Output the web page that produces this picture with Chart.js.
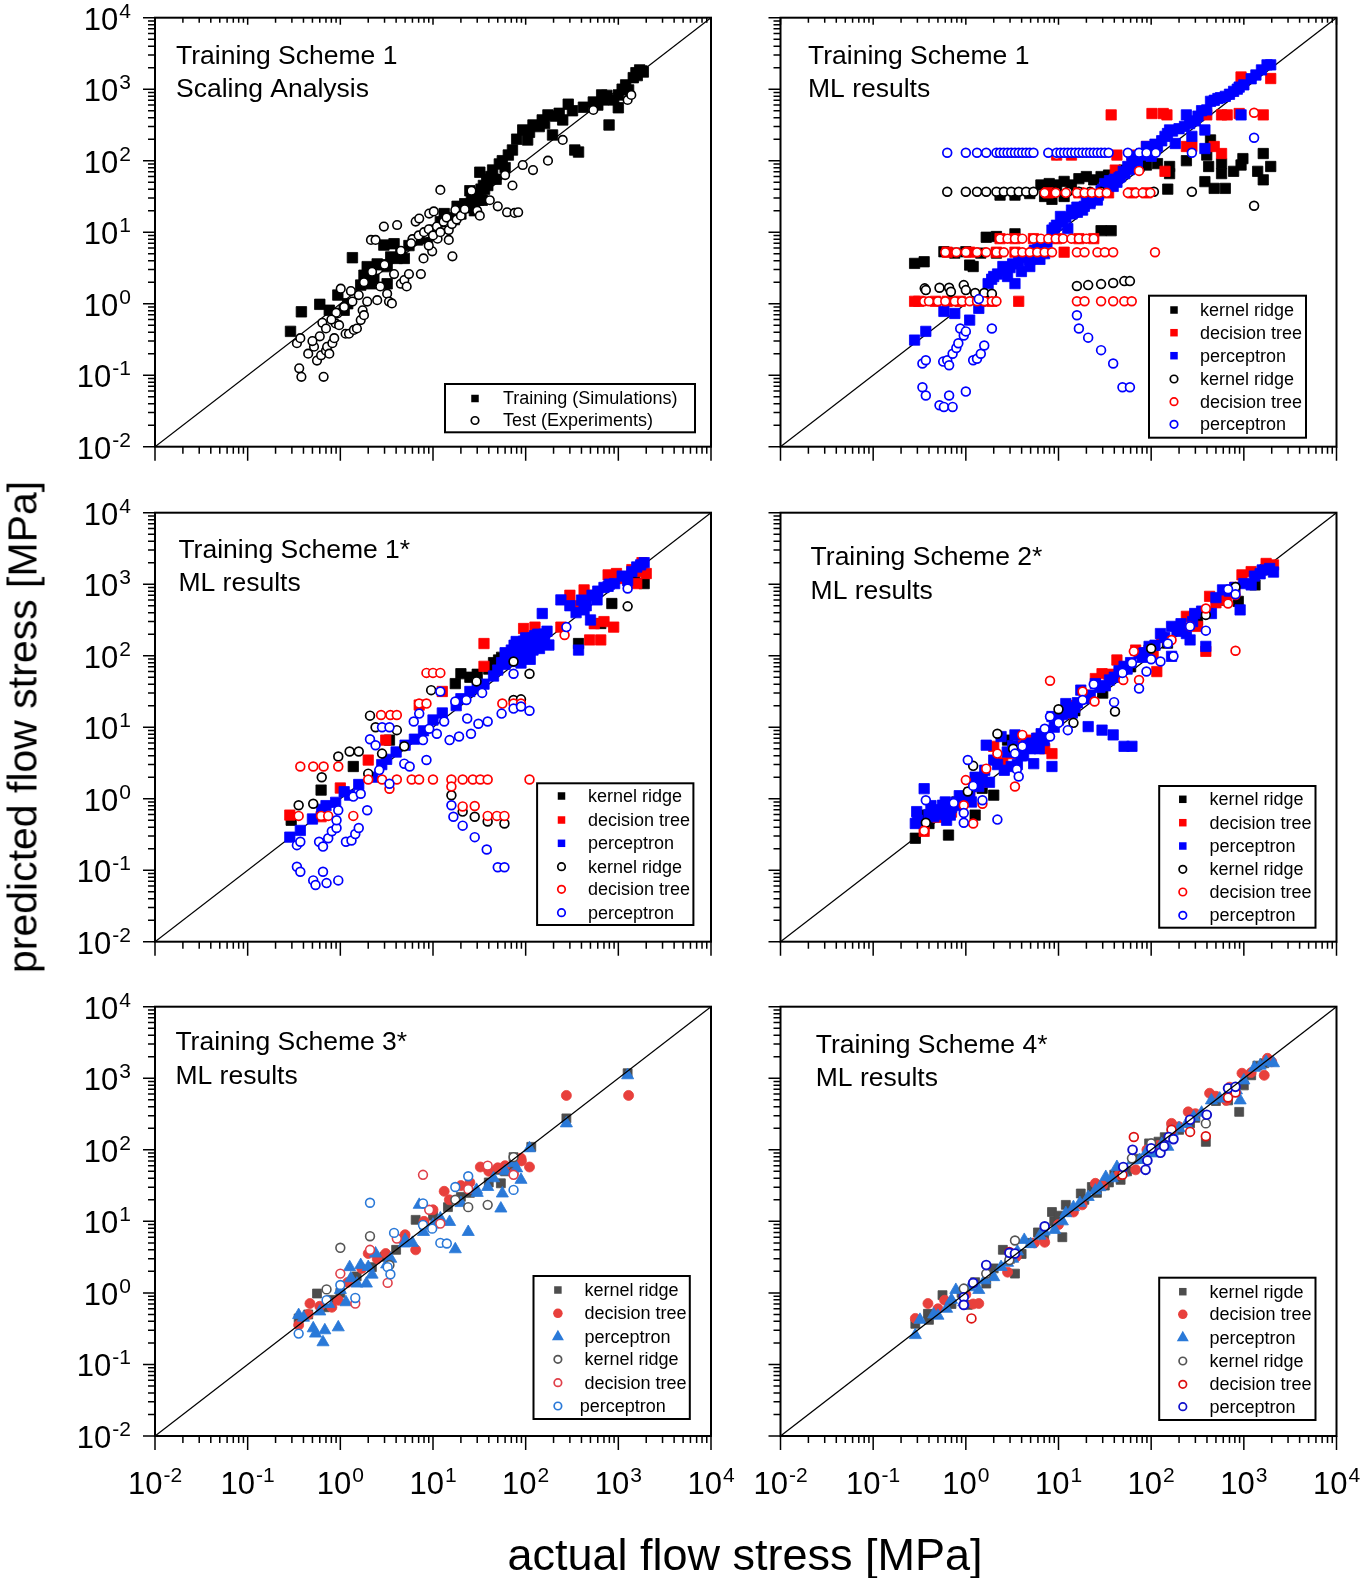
<!DOCTYPE html>
<html><head><meta charset="utf-8">
<script src="https://cdn.jsdelivr.net/npm/chart.js@4.4.1/dist/chart.umd.min.js"></script>
<style>
html,body{margin:0;padding:0;background:#fff;}
#wrap{position:relative;width:1362px;height:1578px;overflow:hidden;font-family:"Liberation Sans",Arial,Helvetica,sans-serif;color:#000;}
#wrap canvas{position:absolute;left:0;top:0;}
.ytitle{position:absolute;left:23px;top:727px;transform:translate(-50%,-50%) rotate(-90deg);font-size:41px;white-space:nowrap;line-height:1;}
.xtitle{position:absolute;left:745px;top:1554px;transform:translate(-50%,-50%);font-size:45px;white-space:nowrap;line-height:1;}
</style></head><body>
<div id="wrap">
<canvas id="c1" width="1362" height="1578"></canvas>
<canvas id="c2" width="1362" height="1578"></canvas>
<canvas id="c3" width="1362" height="1578"></canvas>
<canvas id="c4" width="1362" height="1578"></canvas>
<canvas id="c5" width="1362" height="1578"></canvas>
<canvas id="c6" width="1362" height="1578"></canvas>
<div class="ytitle">predicted flow stress [MPa]</div>
<div class="xtitle">actual flow stress [MPa]</div>
</div>
<script>
// ---------------- DATA ----------------
const tickExponents = [-2, -1, 0, 1, 2, 3, 4];
const axisMin = 0.01, axisMax = 10000;
const panelTitles = [
  ["Training Scheme 1", "Scaling Analysis"],
  ["Training Scheme 1", "ML results"],
  ["Training Scheme 1*", "ML results"],
  ["Training Scheme 2*", "ML results"],
  ["Training Scheme 3*", "ML results"],
  ["Training Scheme 4*", "ML results"]
];
const p1Labels = ["Training (Simulations)", "Test (Experiments)"];
const mlLabels = ["kernel ridge", "decision tree", "perceptron", "kernel ridge", "decision tree", "perceptron"];
const mlLabels4 = ["kernel rigde", "decision tree", "perceptron", "kernel ridge", "decision tree", "perceptron"];

// Panel 1: scaling analysis  [actual, predicted]
const p1Train = [[0.29,0.41],[0.38,0.77],[0.60,0.98],[0.76,0.81],[0.94,1.32],[1.10,0.81],[1.35,4.4],[1.66,1.82],[1.95,3.3],[2.14,1.9],[2.5,3.6],[2.95,6.6],[3.2,1.9],[3.2,3.3],[3.8,6.9],[4.1,4.3],[4.9,4.3],[6.8,7.8],[8.7,8.1],[10.2,10.7],[13.2,18.2],[18.2,23],[22,25],[26,30],[30,35],[36,40],[25,38],[32,69],[28,20],[39,45],[44,74],[34,28],[56,100],[72,141],[93,269],[105,195],[120,316],[151,372],[174,437],[195,229],[251,372],[288,617],[339,141],[372,132],[537,661],[661,832],[794,316],[891,708],[1000,832],[1290,977],[1450,1450],[1550,1700],[1700,1860],[1860,1740],[1000,550],[692,708],[1.2,1.0],[1.8,2.5],[2.3,2.2],[2.8,3.5],[3.5,4.5],[4.5,5.0],[5.5,6.5],[12,14],[15,16],[17,15],[20,18],[24,22],[27,26],[29,33],[31,28],[33,40],[35,45],[38,55],[42,60],[48,55],[52,90],[60,80],[65,120],[80,200],[110,250],[140,300],[160,330],[210,420],[230,460],[320,500],[420,560],[600,600],[750,820],[1100,1000],[1200,1150],[1600,1550],[1800,1800]];
const p1Test = [[0.34,0.28],[0.37,0.33],[0.36,0.125],[0.38,0.095],[0.52,0.25],[0.56,0.16],[0.62,0.19],[0.66,0.095],[0.64,0.54],[0.70,0.22],[0.72,0.25],[0.76,0.20],[0.82,0.28],[0.86,0.33],[0.89,0.53],[0.93,0.73],[0.97,0.50],[1.01,1.62],[1.14,0.38],[1.24,0.38],[1.35,1.07],[1.40,0.43],[1.51,0.45],[1.58,1.32],[1.66,0.59],[1.74,0.81],[1.80,0.69],[1.95,1.07],[2.14,7.8],[2.4,7.8],[2.5,1.12],[2.7,1.74],[2.95,12.0],[3.2,1.38],[3.35,1.07],[3.6,1.01],[3.8,2.6],[4.1,12.6],[4.5,1.9],[4.9,2.14],[5.2,1.74],[5.5,2.6],[6.5,14.1],[7.1,15.5],[7.4,2.6],[7.9,4.3],[8.3,9.5],[9.1,18.2],[9.8,5.4],[10.2,19.5],[11.2,8.1],[12.0,39],[14.8,10.7],[16.2,4.6],[17.4,20.4],[14.8,7.8],[26,38],[30,20],[32,17],[41,28],[50,23],[63,19],[76,18.6],[83,19],[60,63],[72,45],[93,87],[120,74],[174,100],[251,195],[537,513],[1260,708],[1380,832],[6,8],[7,9],[8,10],[9,11],[10,9],[11,12],[12,10],[13,14],[14,16],[16,13],[18,15],[20,17],[22,21],[9,6.5],[5.8,7],[4.5,5.5],[3,3.5],[2.2,2.8],[1.8,2],[1.3,1.5],[1.1,0.9],[0.9,0.75],[0.8,0.6],[0.7,0.45],[0.6,0.35],[0.5,0.3],[0.45,0.2]];

// Panel 2: Training Scheme 1, ML results
const p2KernelFilled = [[0.28,3.66],[0.355,3.86],[0.58,5.33],[0.76,5.1],[1.0,5.33],[1.45,5.1],[2.14,5.1],[1.1,3.47],[1.2,3.31],[1.66,8.5],[2.14,8.7],[3.39,9.5],[28.8,10.5],[37,10.5],[6.46,45.7],[7.94,47.9],[9.55,45.7],[11.5,51.3],[13.8,45.7],[16.6,56],[20,60],[24,54],[28.8,60],[34.7,63],[42.7,66],[51,74],[62,78],[74,83],[89,87],[117,91],[158,83],[158,66],[2.34,33],[3.39,33],[4.9,34.7],[7.08,31.6],[8.5,28.8],[11.5,31.6],[151,40],[240,100],[398,120],[417,83],[380,51],[479,41],[631,41],[575,91],[575,66],[776,71],[933,87],[977,107],[1620,126],[1950,83],[1620,54],[1410,71],[437,195]];
const p2TreeFilled = [[0.28,1.08],[0.31,1.08],[0.47,1.08],[0.63,1.08],[0.87,1.08],[1.45,1.08],[1.91,1.08],[3.72,1.08],[0.63,5.25],[1.1,5.25],[2.14,5.25],[3.39,5.25],[5.37,5.25],[11.5,5.25],[2.34,8.13],[3.39,8.13],[5.37,8.13],[9.55,8.13],[16.6,8.13],[24,8.13],[37,437],[102,457],[135,457],[148,437],[398,437],[575,437],[661,437],[1620,437],[891,457],[933,1480],[1950,1410],[240,158],[275,158],[479,158],[575,126],[41,74],[141,71],[89,158],[7.76,35.5],[16.6,35.5],[34.7,35.5],[62,35.5],[89,35.5],[9.55,120],[13.8,120],[42.7,120],[62,120]];
const p2PercFilled = [[0.28,0.31],[0.37,0.41],[0.58,0.78],[0.76,0.73],[1.1,0.59],[1.38,0.86],[1.74,1.91],[2.0,2.4],[2.51,3.31],[3.39,1.91],[3.72,3.89],[4.9,4.07],[4.9,3.31],[7.08,5.01],[8.5,10.7],[12.6,11.2],[10.5,16.6],[13.8,20.4],[18.2,20.4],[21.9,25.1],[26.3,28.2],[31.6,47.9],[38.9,43.7],[46.8,60],[56,83],[62,115],[89,158],[100,115],[117,158],[141,219],[158,269],[182,174],[229,302],[240,437],[275,219],[380,269],[398,513],[437,676],[525,741],[631,794],[776,933],[891,1070],[933,437],[1000,1150],[1350,1580],[1550,1860],[1780,2190],[1950,2190],[380,148],[15.8,22.4],[20,26.3],[24,31.6],[28.8,38],[35.5,52.5],[42.7,50],[50,71],[71,89],[79,126],[6.3,4.17],[3.98,2.82],[2.82,2.4],[1.9,2.2],[2.2,2.6],[2.7,2.9],[3.0,3.2],[3.2,3.6],[4.2,4.4],[4.5,4.6],[5.5,5.6],[6,6.5],[7.5,7.2],[9,11.5],[9.5,12.5],[11,14],[12,16],[14,18],[16,19],[17,21],[19,23],[22,27],[25,30],[27,33],[30,40],[33,45],[37,50],[40,55],[45,58],[52,66],[58,75],[65,90],[70,100],[85,120],[95,140],[110,170],[130,190],[150,240],[170,260],[200,280],[260,330],[300,360],[320,420],[350,500],[480,700],[560,760],[700,850],[850,1000],[1200,1400]];
const p2KernelOpen = [[0.63,36.8],[1.0,36.8],[1.32,36.8],[1.66,36.8],[2.14,36.8],[2.57,36.8],[3.09,36.8],[3.72,36.8],[4.47,36.8],[5.37,36.8],[9.55,36.8],[12.6,36.8],[16.6,36.8],[21.9,36.8],[28.8,36.8],[107,36.8],[275,36.8],[1290,23.4],[15.8,1.77],[20.9,1.82],[28.8,1.88],[38.9,1.95],[51.3,2.07],[59,2.07],[0.36,1.64],[0.37,1.55],[0.52,1.67],[0.66,1.67],[0.69,1.47],[0.95,1.82],[1.0,1.55],[1.26,1.41],[1.58,1.41],[1.91,1.38]];
const p2TreeOpen = [[7.08,35.5],[9.33,35.5],[12.0,35.5],[15.8,35.5],[19.1,35.5],[22.9,35.5],[27.5,35.5],[33.1,35.5],[56,35.5],[68,35.5],[81,35.5],[98,35.5],[2.34,8.13],[2.82,8.13],[3.39,8.13],[4.07,8.13],[5.37,8.13],[6.46,8.13],[7.76,8.13],[9.33,8.13],[11.2,8.13],[13.8,8.13],[16.6,8.13],[20,8.13],[24,8.13],[0.60,5.25],[0.79,5.25],[1.0,5.25],[1.32,5.25],[1.66,5.25],[2.14,5.25],[2.57,5.25],[3.39,5.25],[4.07,5.25],[4.9,5.25],[5.89,5.25],[7.08,5.25],[8.51,5.25],[15.8,5.25],[19.1,5.25],[26.3,5.25],[31.6,5.25],[38.9,5.25],[110,5.25],[0.355,1.08],[0.40,1.08],[0.50,1.08],[0.60,1.08],[0.76,1.08],[0.91,1.08],[1.10,1.08],[1.32,1.08],[1.58,1.08],[1.91,1.08],[2.14,1.08],[15.8,1.08],[19.1,1.08],[28.8,1.08],[38.9,1.08],[51.3,1.08],[61.7,1.08],[1290,468],[74,72],[9.55,120]];
const p2PercOpen = [[0.63,129],[1.0,129],[1.32,129],[1.66,129],[2.14,129],[2.34,129],[2.57,129],[2.82,129],[3.09,129],[3.39,129],[3.72,129],[4.07,129],[4.47,129],[4.9,129],[5.37,129],[7.76,129],[9.55,129],[10.5,129],[11.5,129],[12.6,129],[13.8,129],[15.1,129],[16.6,129],[18.2,129],[20,129],[21.9,129],[24,129],[26.3,129],[28.8,129],[31.6,129],[34.7,129],[56,129],[74,129],[89,129],[112,129],[275,129],[1290,209],[15.8,0.69],[16.6,0.45],[20.9,0.335],[28.8,0.224],[38.9,0.146],[49,0.068],[59,0.068],[0.34,0.146],[0.37,0.162],[0.34,0.068],[0.37,0.052],[0.52,0.038],[0.58,0.036],[0.66,0.052],[0.72,0.036],[1.0,0.059],[0.57,0.155],[0.63,0.162],[0.66,0.138],[0.72,0.20],[0.79,0.24],[0.83,0.28],[0.87,0.45],[0.95,0.36],[1.0,0.41],[1.2,0.162],[1.32,0.17],[1.45,0.20],[1.58,0.26],[1.91,0.45],[1.38,1.16]];

// Panel 3: Training Scheme 1*
const p3KernelFilled = [[0.295,0.5],[17.4,40.7],[25,50],[51,87],[62,91],[646,282],[1900,1020],[851,537],[372,148],[3.39,6.6],[0.62,1.32],[1.38,2.82],[20,56],[30,55],[40,65],[45,80],[55,95],[1300,1100],[1500,1200]];
const p3TreeFilled = [[0.285,0.59],[0.62,0.56],[35.5,148],[95,240],[126,251],[240,251],[427,832],[776,1350],[955,1410],[1580,1020],[490,166],[646,166],[891,251],[2000,1410],[35.5,71],[7.1,20.4],[2.0,3.47],[3.09,6.6],[12.6,31.6],[1.0,1.41],[300,700],[350,500],[500,700],[550,280],[700,300],[1100,1200],[1400,1600],[1800,1500],[1800,2000]];
const p3PercFilled = [[0.285,0.29],[0.37,0.36],[0.63,0.71],[0.89,0.89],[1.26,1.12],[1.58,1.58],[2.24,2.0],[3.16,3.55],[5.0,5.6],[7.9,8.9],[12.6,15.8],[17.8,20],[25,31.6],[35.5,40],[50,63],[74,100],[79,158],[89,126],[100,178],[112,89],[126,158],[141,126],[158,200],[178,141],[89,79],[240,603],[427,437],[589,603],[776,933],[912,1020],[1580,1740],[1740,1860],[372,120],[151,389],[1260,1120],[501,316],[68,83],[85,110],[95,141],[105,120],[120,178],[135,200],[60,76],[30,35],[45,52],[20,25],[10,12.6],[6.3,6.8],[4.0,4.5],[2.8,3.0],[1.1,1.25],[0.7,0.8],[0.5,0.52],[70,120],[75,140],[80,90],[90,110],[95,160],[100,130],[105,95],[110,150],[115,170],[120,120],[125,190],[130,140],[140,170],[150,160],[160,180],[170,220],[65,95],[60,110],[55,80],[300,500],[350,400],[400,600],[450,500],[520,700],[600,800],[700,900],[800,1000],[1100,1300],[1400,1500],[1900,2000]];
const p3KernelOpen = [[0.355,0.81],[0.95,3.89],[1.26,4.57],[1.58,4.57],[2.09,14.5],[2.4,10],[9.55,33],[29.5,43.7],[74,83],[110,56],[1260,490],[15.8,1.12],[20.9,0.66],[28.2,0.56],[38.9,0.48],[59,0.45],[74,24],[89,24.5],[0.51,0.85],[4.07,9.1],[4.9,5.4],[2.82,4.27],[0.63,2.0],[2.0,2.24]];
const p3TreeOpen = [[0.37,2.82],[0.51,2.82],[0.66,2.82],[0.95,2.82],[2.0,1.86],[2.82,1.86],[4.07,1.86],[5.89,1.86],[7.08,1.86],[10,1.86],[15.8,1.86],[20.9,1.86],[26.9,1.86],[32.4,1.86],[38.9,1.86],[110,1.86],[2.75,14.8],[3.47,14.8],[4.07,14.8],[8.5,57.5],[10,57.5],[12,57.5],[7.08,21.4],[8.5,21.4],[56,21.4],[74,21.4],[89,21.4],[0.355,0.575],[0.62,0.575],[0.74,0.575],[38.9,0.575],[49,0.575],[59,0.575],[20.9,0.78],[28.2,0.79],[15.8,1.48],[1.38,0.575],[3.39,1.38],[263,195]];
const p3PercOpen = [[0.34,0.112],[0.37,0.095],[0.51,0.072],[0.54,0.062],[0.65,0.095],[0.71,0.066],[0.95,0.072],[0.34,0.224],[0.37,0.25],[0.59,0.25],[0.65,0.214],[0.74,0.28],[0.81,0.35],[0.91,0.39],[1.15,0.25],[1.32,0.26],[1.45,0.32],[1.58,0.39],[1.95,0.69],[0.91,0.5],[0.95,0.69],[1.38,1.07],[1.66,1.17],[2.09,6.8],[2.4,5.6],[2.82,10],[3.39,10],[2.63,2.51],[3.39,1.62],[4.9,3.09],[5.6,2.82],[6.2,12],[7.1,15.5],[8.5,3.47],[7.8,6.6],[9.1,9.5],[11,8.1],[12,31.6],[13.2,12],[15.1,6.6],[19.1,7.4],[17.4,22.9],[22.9,24],[23.4,13.2],[25.7,8.1],[30.9,11.2],[38.9,12],[33.9,30.2],[55,15.5],[74,18.2],[89,19.5],[110,17],[15.8,0.81],[16.6,0.56],[20.9,0.42],[28.2,0.29],[38,0.195],[50,0.11],[59,0.11],[74,56],[275,251],[1260,871]];

// Panel 4: Training Scheme 2*
const p4KernelFilled = [[0.285,0.28],[0.65,0.31],[0.37,0.59],[2.0,1.12],[1.26,0.59],[95,120],[316,316],[871,575],[1320,977],[2.82,6.6],[0.4,0.45],[0.8,0.9],[1.5,1.4],[5,6],[15,17],[30,30],[60,70],[150,150],[600,600],[1700,1600]];
const p4TreeFilled = [[0.355,0.35],[0.47,0.63],[2.0,5.4],[3.09,4.27],[4.9,6.6],[7.1,5.0],[8.5,4.27],[12,15.5],[25,47.9],[29.5,56],[42.7,87],[68,120],[105,98],[115,60],[240,355],[316,257],[427,676],[646,603],[955,1350],[1740,1950],[2090,1860],[389,115],[0.5,0.55],[0.7,0.65],[1.1,1.2],[1.5,1.7],[2.5,3.2],[4,5.5],[6,7],[10,14],[15,20],[20,28],[35,55],[50,70],[90,110],[130,180],[200,250],[500,550],[800,900],[1200,1500]];
const p4PercFilled = [[0.285,0.45],[0.295,0.66],[0.355,1.38],[0.56,0.81],[0.62,0.5],[0.68,0.59],[0.95,1.0],[1.38,1.48],[1.66,5.6],[2.0,3.47],[2.4,7.4],[3.09,2.82],[3.39,7.8],[5.4,3.09],[6.5,8.1],[8.5,2.82],[8.5,14.1],[12,21.4],[17.4,33],[20.9,10.2],[29.5,9.1],[38.9,7.8],[51,5.4],[62,5.4],[25,40.7],[35.5,45.7],[51,71],[74,107],[95,135],[126,204],[166,257],[166,98],[240,204],[263,166],[295,389],[389,135],[447,389],[589,832],[912,437],[1000,1020],[1200,977],[1580,1580],[1900,1660],[2090,1480],[1.26,2.0],[3.98,3.98],[10,12.6],[14.1,15.8],[0.45,0.56],[0.79,0.89],[0.3,0.5],[0.4,0.6],[0.42,0.8],[0.5,0.7],[0.55,0.6],[0.6,0.9],[0.7,0.75],[0.8,0.8],[0.85,1.1],[1.1,1.2],[1.15,0.9],[1.3,1.6],[1.5,1.9],[1.6,2.5],[1.8,1.7],[2.2,3.0],[2.6,2.5],[2.8,4.5],[3.2,5.5],[3.6,3.0],[4.2,4.0],[4.5,6.0],[5.0,5.0],[5.8,7.0],[6.2,5.0],[7.0,6.5],[7.5,9.0],[9.0,10],[11,15],[13,17],[15,19],[16,22],[19,25],[22,28],[28,36],[32,38],[40,50],[45,62],[55,65],[60,80],[80,95],[85,110],[110,140],[140,180],[190,220],[210,280],[280,300],[350,420],[500,650],[700,800],[800,900],[1300,1300],[1500,1400]];
const p4KernelOpen = [[2.19,8.1],[1.2,2.88],[10,17.8],[40.7,16.6],[100,126],[389,372],[813,912],[0.37,0.46],[1.05,1.26],[3.24,5.0],[14.5,11.5]];
const p4TreeOpen = [[8.1,44.7],[813,117],[0.355,0.355],[1.2,0.45],[0.95,0.81],[1.66,2.63],[3.39,1.48],[2.19,4.27],[4.07,7.8],[18.2,31.6],[24.5,22.9],[50,45.7],[65,115],[74,45.7],[166,166],[263,257],[389,457],[676,537],[813,708],[1.0,1.82],[1.51,0.85]];
const p4PercOpen = [[0.37,0.95],[0.74,0.87],[0.95,0.63],[0.95,0.46],[1.05,3.47],[1.2,1.51],[1.51,0.95],[2.19,0.51],[3.39,4.27],[3.55,2.57],[3.72,2.04],[4.07,5.4],[7.1,9.5],[8.1,14.1],[8.1,7.4],[10,11.5],[12.6,9.1],[18.2,24],[24,39.8],[39.8,22.4],[49,57.5],[62,79],[74,34.7],[89,60],[100,89],[126,83],[151,148],[174,98],[263,257],[389,224],[676,851],[813,724]];

// Panel 5: Training Scheme 3*
const p5KernelFilled = [[1260,1175],[275,275],[74,79],[115,110],[54,34],[14.5,15.8],[6.5,10.5],[2.19,2.29],[0.56,0.98],[0.68,0.63],[0.355,0.44],[68,57.5],[51,52.5],[1.0,1.0],[4.0,4.0],[25,25],[0.45,0.5],[0.8,0.8],[1.5,1.7],[3,3.2],[8,9],[10,12],[20,22],[40,35],[60,50]];
const p5TreeFilled = [[275,575],[1290,575],[110,57.5],[89,76],[32.4,57.5],[38.9,55],[13.2,26.3],[10,14.5],[6.5,4.0],[3.09,3.55],[2.0,3.55],[0.81,0.63],[0.47,0.71],[0.355,0.355],[0.95,0.79],[4.9,6.0],[74,46.8],[20,31.6],[50,56],[0.45,0.5],[0.6,0.65],[1.2,1.4],[1.7,2.2],[2.5,3.0],[5,6.5],[8,10],[15,20],[25,35],[40,50],[60,60],[90,70]];
const p5PercFilled = [[1260,1100],[275,234],[110,105],[74,65],[89,38],[56,24.5],[54,15.1],[24,7.1],[17.4,4.07],[15.1,9.8],[7.1,17],[4.9,4.9],[2.4,3.55],[1.66,2.45],[1.51,1.35],[1.26,2.29],[1.91,1.35],[1.15,0.74],[0.355,0.49],[0.54,0.27],[0.68,0.3],[0.65,0.204],[0.95,0.33],[0.51,0.32],[29.5,27.5],[38.9,30.2],[7.9,7.1],[3.16,2.5],[0.4,0.45],[0.6,0.55],[0.75,0.7],[1.0,1.1],[1.3,1.6],[2,2.3],[2.2,1.8],[3.5,3.0],[5,5.5],[6,5],[10,9],[12,11],[20,18],[30,25],[45,40],[60,50],[80,55]];
const p5KernelOpen = [[1.0,4.27],[2.09,6.2],[38.9,17],[24,15.8],[17.4,20],[74,79],[0.71,1.12],[3.39,2.45]];
const p5TreeOpen = [[7.8,44.7],[2.09,4.0],[1.0,1.86],[3.24,1.38],[1.45,0.71],[38.9,60],[74,44.7],[24,28.2],[12,9.3],[9.1,14.5],[4.07,5.75]];
const p5PercOpen = [[2.09,18.2],[7.8,17.8],[17.4,30.2],[24,42.7],[74,27.5],[3.8,6.9],[9.8,7.9],[12,5.0],[14.1,4.9],[3.24,2.29],[3.47,1.82],[1.0,1.29],[1.45,0.85],[0.355,0.27],[0.71,0.79],[7.8,8.9]];

// Panel 6: Training Scheme 4*
const p6KernelFilled = [[0.285,0.37],[0.39,0.51],[0.56,0.93],[1.05,0.68],[1.66,1.35],[2.51,4.0],[3.39,1.86],[8.5,13.5],[11,6.0],[12,17],[17.4,24.5],[22.9,30.2],[46.8,38],[95,123],[166,209],[263,234],[389,129],[891,339],[676,490],[1000,794],[1660,1620],[5.0,5.0],[31.6,31.6],[1.26,1.41],[0.4,0.42],[0.7,0.7],[0.9,1.0],[2,2.2],[3,3],[4,3.5],[6,7],[7,6],[9,10],[10,12],[14,14],[19,20],[26,25],[35,35],[40,45],[55,50],[70,75],[120,130],[140,150],[200,190],[300,280],[500,480],[1200,1100],[1400,1500]];
const p6TreeFilled = [[0.285,0.44],[0.39,0.71],[0.59,0.79],[1.38,0.71],[7.1,5.1],[14.5,13.5],[25,34],[68,52.5],[166,234],[251,339],[427,617],[955,1175],[1660,1100],[2000,1700],[2.82,1.95],[646,490],[0.5,0.6],[1.0,0.95],[1.2,0.7],[3.5,3.2],[5.5,5],[10,9],[18,17],[30,32],[45,45],[90,100],[120,115],[200,210],[300,320],[500,560],[700,750],[1200,1200],[1800,1900]];
const p6PercFilled = [[0.285,0.257],[0.32,0.42],[0.62,0.6],[0.78,1.1],[0.95,0.74],[1.38,1.1],[2.0,1.66],[4.27,5.5],[9.1,7.6],[14.5,15.8],[20.9,21.9],[32.4,41.7],[42.7,57.5],[105,89],[151,110],[288,288],[447,490],[832,676],[912,490],[1000,933],[1740,1700],[2090,1620],[2.82,2.63],[6.3,6.3],[63,71],[200,200],[0.45,0.5],[0.5,0.48],[0.7,0.8],[1.1,1.2],[1.6,1.5],[2.4,2.3],[3.2,3.0],[3.6,3.8],[5,4.8],[7,7.2],[11,10],[12,13],[17,18],[25,27],[28,30],[38,40],[50,48],[75,72],[90,95],[130,120],[170,180],[240,230],[350,330],[550,520],[700,680],[1300,1400],[1500,1500]];
const p6KernelOpen = [[0.95,1.15],[3.39,5.4],[1.66,1.86],[62,76],[100,123],[389,234],[2.95,2.88]];
const p6TreeOpen = [[1.15,0.44],[65,151],[49,44.7],[263,178],[389,155],[676,537],[813,631],[166,191],[2.95,3.72]];
const p6PercOpen = [[0.95,0.87],[0.95,0.68],[1.2,1.38],[1.66,2.45],[2.95,3.63],[3.39,3.55],[7.1,8.5],[50,57.5],[63,100],[87,52.5],[91,71],[100,105],[126,91],[138,112],[155,151],[174,141],[263,263],[398,309],[676,724],[813,759]];

// ---------------- STYLE / LAYOUT ----------------
const FONT = '"Liberation Sans", Arial, Helvetica, sans-serif';
const W = 1362, H = 1578;
const geom = [
  {x0:155, x1:711, y0:17.7, y1:446.7, yLabels:true, xLabels:false, topTicks:true, tx:176, ty:[63.5,97],
   legend:{box:[445,384,695,432.3], rows:[398.5,420.5], mx:475, tx:[503,503]}},
  {x0:780.5, x1:1336.5, y0:17.7, y1:446.7, yLabels:false, xLabels:false, topTicks:true, tx:808, ty:[63.5,97],
   legend:{box:[1149,295.7,1306,437.7], rows:[310,332.7,355.7,379,401.7,424.3], mx:1174, tx:[1200,1200,1200,1200,1200,1200]}},
  {x0:155, x1:711, y0:512.7, y1:941.7, yLabels:true, xLabels:false, topTicks:false, tx:178.4, ty:[557.5,591],
   legend:{box:[537.1,783.3,693.4,925], rows:[796,820,843.3,866.7,889.3,912.7], mx:561.5, tx:[588,588,588,588,588,588]}},
  {x0:780.5, x1:1336.5, y0:512.7, y1:941.7, yLabels:false, xLabels:false, topTicks:false, tx:810.6, ty:[565,599],
   legend:{box:[1159.2,786,1315.5,927.7], rows:[799.3,822.7,846,869.3,892,915.3], mx:1182.8, tx:[1209.4,1209.4,1209.4,1209.4,1209.4,1209.4]}},
  {x0:155, x1:711, y0:1006.7, y1:1436, yLabels:true, xLabels:true, topTicks:false, tx:175.4, ty:[1050,1083.5],
   legend:{box:[533.5,1276,689.8,1419], rows:[1290,1313.3,1336.7,1359.3,1382.7,1406], mx:557.9, tx:[584.4,584.4,584.4,584.4,584.4,579.7]}},
  {x0:780.5, x1:1336.5, y0:1006.7, y1:1436, yLabels:false, xLabels:true, topTicks:false, tx:815.7, ty:[1052.7,1086],
   legend:{box:[1159.2,1277.7,1315.5,1420], rows:[1291.7,1314.3,1337.7,1361,1384.3,1406.7], mx:1182.8, tx:[1209.4,1209.4,1209.4,1209.4,1209.4,1209.4]}}
];

function toXY(arr){ return arr.map(p => ({x:p[0], y:p[1]})); }

function filledSet(label, arr, color, shape, r, order, legendSize){
  return {label, data:toXY(arr), showLine:false, pointStyle:shape, pointRadius:r, pointHoverRadius:r,
    pointBackgroundColor:color, pointBorderColor:color, pointBorderWidth:0.8, order,
    lg:{shape, fill:color, stroke:null, size:legendSize}};
}
function openSet(label, arr, color, r, order, lw){
  return {label, data:toXY(arr), showLine:false, pointStyle:'circle', pointRadius:r, pointHoverRadius:r,
    pointBackgroundColor:'#ffffff', pointBorderColor:color, pointBorderWidth:lw, order,
    lg:{shape:'circle', fill:'#ffffff', stroke:color, size:7.5, lw:1.7}};
}
function diagonal(order){
  return {label:'', data:[{x:axisMin,y:axisMin},{x:axisMax,y:axisMax}], showLine:true, borderColor:'#000',
    borderWidth:1.3, pointRadius:0, pointHoverRadius:0, order, lg:null};
}

function drawPow(ctx, e, x, y, align){
  ctx.font = '31px ' + FONT;
  const wb = ctx.measureText('10').width;
  ctx.font = '21px ' + FONT;
  const es = String(e);
  const we = ctx.measureText(es).width;
  const total = wb + we + 1;
  const sx = align === 'right' ? x - total : x - total/2;
  ctx.textAlign = 'left'; ctx.textBaseline = 'alphabetic';
  ctx.font = '31px ' + FONT;
  ctx.fillText('10', sx, y);
  ctx.font = '21px ' + FONT;
  ctx.fillText(es, sx + wb + 1, y - 12);
}

function drawMarker(ctx, lg, x, y){
  ctx.beginPath();
  const s = lg.size;
  if (lg.shape === 'rect') ctx.rect(x - s/2, y - s/2, s, s);
  else if (lg.shape === 'triangle') { const h = s*0.866; ctx.moveTo(x, y - h*2/3); ctx.lineTo(x + s/2, y + h/3); ctx.lineTo(x - s/2, y + h/3); ctx.closePath(); }
  else ctx.arc(x, y, s/2, 0, Math.PI*2);
  if (lg.fill) { ctx.fillStyle = lg.fill; ctx.fill(); }
  if (lg.stroke) { ctx.strokeStyle = lg.stroke; ctx.lineWidth = lg.lw || 1.5; ctx.stroke(); }
}

const decor = {
  id:'decor',
  afterDatasetsDraw(chart, args, opts){
    const g = opts.geom, idx = opts.index;
    const ctx = chart.ctx, ca = chart.chartArea;
    const xs = chart.scales.x, ys = chart.scales.y;
    ctx.save();
    ctx.strokeStyle = '#000'; ctx.lineWidth = 1.5;
    ctx.beginPath();
    const last = tickExponents[tickExponents.length - 1];
    for (const e of tickExponents){
      const mults = e === last ? [1] : [1,2,3,4,5,6,7,8,9];
      for (const m of mults){
        const v = m * Math.pow(10, e);
        const px = xs.getPixelForValue(v), py = ys.getPixelForValue(v);
        const major = m === 1;
        ctx.moveTo(px, ca.bottom); ctx.lineTo(px, ca.bottom + (major ? 14 : 7));
        ctx.moveTo(ca.left - (major ? 12 : 7), py); ctx.lineTo(ca.left, py);
        if (g.topTicks){ ctx.moveTo(px, ca.top); ctx.lineTo(px, ca.top + (major ? 7 : 5)); }
      }
    }
    ctx.stroke();
    ctx.lineWidth = 2;
    ctx.strokeRect(ca.left, ca.top, ca.right - ca.left, ca.bottom - ca.top);
    ctx.fillStyle = '#000';
    for (const e of tickExponents){
      if (g.yLabels) drawPow(ctx, e, ca.left - 24, ys.getPixelForValue(Math.pow(10, e)) + 12, 'right');
      if (g.xLabels) drawPow(ctx, e, xs.getPixelForValue(Math.pow(10, e)), ca.bottom + 58, 'center');
    }
    ctx.font = '26.5px ' + FONT; ctx.textAlign = 'left'; ctx.textBaseline = 'alphabetic';
    panelTitles[idx].forEach((t, i) => ctx.fillText(t, g.tx, g.ty[i]));
    const L = g.legend, b = L.box;
    ctx.fillStyle = '#fff'; ctx.fillRect(b[0], b[1], b[2]-b[0], b[3]-b[1]);
    ctx.strokeStyle = '#000'; ctx.lineWidth = 2; ctx.strokeRect(b[0], b[1], b[2]-b[0], b[3]-b[1]);
    const entries = chart.data.datasets.filter(d => d.lg);
    entries.forEach((d, i) => {
      drawMarker(ctx, d.lg, L.mx, L.rows[i]);
      ctx.fillStyle = '#000'; ctx.font = '18px ' + FONT; ctx.textAlign = 'left'; ctx.textBaseline = 'middle';
      ctx.fillText(d.label, L.tx[i], L.rows[i] + 1);
    });
    ctx.restore();
  }
};

function makeChart(id, idx, datasets){
  const g = geom[idx];
  return new Chart(document.getElementById(id), {
    type:'scatter',
    data:{datasets},
    options:{
      responsive:false, animation:false, events:[], devicePixelRatio:1,
      layout:{padding:{left:g.x0, top:g.y0, right:W - g.x1, bottom:H - g.y1}},
      scales:{
        x:{type:'logarithmic', min:axisMin, max:axisMax, display:false},
        y:{type:'logarithmic', min:axisMin, max:axisMax, display:false}
      },
      plugins:{legend:{display:false}, tooltip:{enabled:false}, decor:{geom:g, index:idx}}
    },
    plugins:[decor]
  });
}

const K = '#000000', R = '#ff0000', B = '#0000ff';
const gK = '#4d4d4d', gR = '#e8403c', gB = '#2a79d8';

function mlSets(labels, kf, tf, pf, ko, to, po){
  return [
    filledSet(labels[0], kf, K, 'rect', 7.3, 5, 7.5),
    filledSet(labels[1], tf, R, 'rect', 7.3, 4, 7.5),
    filledSet(labels[2], pf, B, 'rect', 7.3, 3, 7.5),
    openSet(labels[3], ko, K, 4.4, 2, 1.7),
    openSet(labels[4], to, R, 4.4, 1, 1.7),
    openSet(labels[5], po, B, 4.4, 0, 1.7),
    diagonal(9)
  ];
}

makeChart('c1', 0, [
  filledSet(p1Labels[0], p1Train, K, 'rect', 7.4, 1, 7.5),
  openSet(p1Labels[1], p1Test, K, 4.3, 0, 1.6),
  diagonal(9)
]);
makeChart('c2', 1, mlSets(mlLabels, p2KernelFilled, p2TreeFilled, p2PercFilled, p2KernelOpen, p2TreeOpen, p2PercOpen));
makeChart('c3', 2, mlSets(mlLabels, p3KernelFilled, p3TreeFilled, p3PercFilled, p3KernelOpen, p3TreeOpen, p3PercOpen));
makeChart('c4', 3, mlSets(mlLabels, p4KernelFilled, p4TreeFilled, p4PercFilled, p4KernelOpen, p4TreeOpen, p4PercOpen));
makeChart('c5', 4, [
  filledSet(mlLabels[0], p5KernelFilled, gK, 'rect', 6.3, 5, 7.5),
  filledSet(mlLabels[1], p5TreeFilled, gR, 'circle', 5, 4, 9.5),
  filledSet(mlLabels[2], p5PercFilled, gB, 'triangle', 7, 3, 12),
  openSet(mlLabels[3], p5KernelOpen, '#555555', 4.4, 2, 1.6),
  openSet(mlLabels[4], p5TreeOpen, '#e0404a', 4.4, 1, 1.6),
  openSet(mlLabels[5], p5PercOpen, '#2a79d8', 4.4, 0, 1.6),
  diagonal(-1)
]);
makeChart('c6', 5, [
  filledSet(mlLabels4[0], p6KernelFilled, gK, 'rect', 6.3, 5, 7.5),
  filledSet(mlLabels4[1], p6TreeFilled, gR, 'circle', 5, 4, 9.5),
  filledSet(mlLabels4[2], p6PercFilled, gB, 'triangle', 7, 3, 12),
  openSet(mlLabels4[3], p6KernelOpen, '#555555', 4.4, 2, 1.6),
  openSet(mlLabels4[4], p6TreeOpen, '#dd1111', 4.4, 1, 1.7),
  openSet(mlLabels4[5], p6PercOpen, '#1010cc', 4.4, 0, 1.9),
  diagonal(-1)
]);
</script>
</body></html>
